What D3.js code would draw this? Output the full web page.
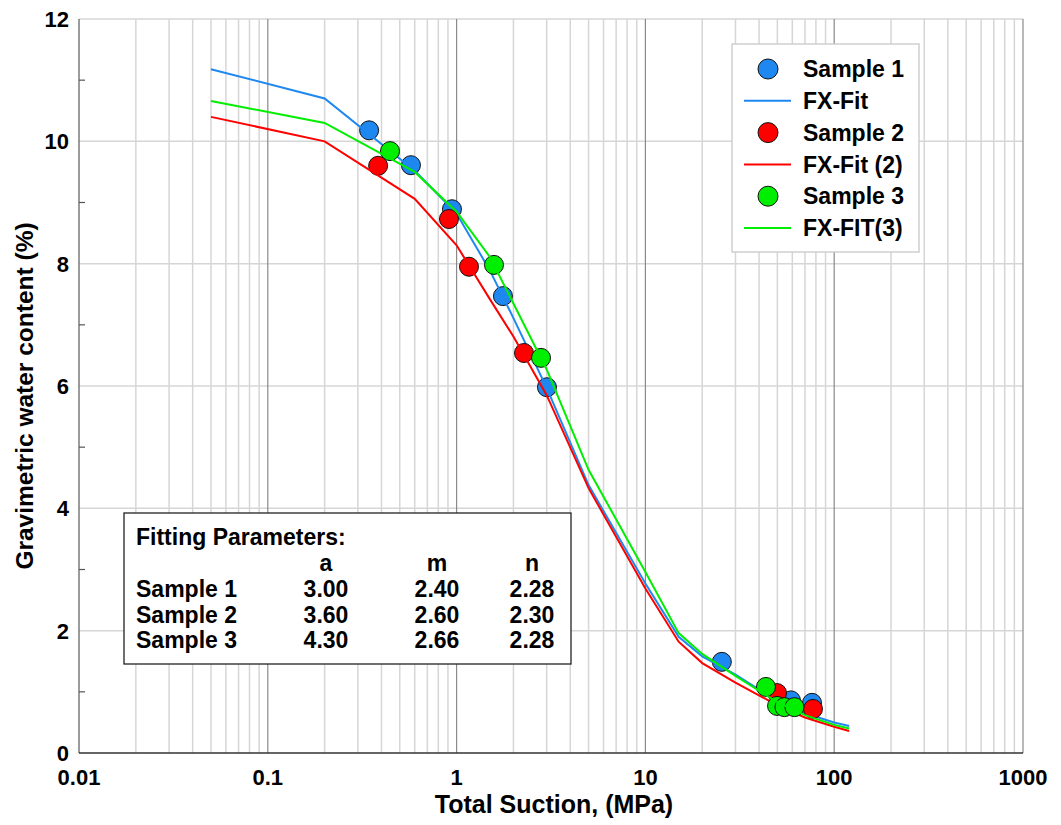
<!DOCTYPE html>
<html>
<head>
<meta charset="utf-8">
<script src="https://cdn.jsdelivr.net/npm/d3@7"></script>
<style>
  html, body { margin: 0; padding: 0; background: #fff; }
  svg { display: block; }
  text { font-family: "Liberation Sans", Arial, sans-serif; font-weight: bold; fill: #000; }
</style>
</head>
<body>
<svg id="chart" width="1061" height="825"></svg>
<script>
// ---------- data ----------
const xTickValues = [0.01, 0.1, 1, 10, 100, 1000];
const xTickLabels = ["0.01", "0.1", "1", "10", "100", "1000"];
const yTickValues = [0, 2, 4, 6, 8, 10, 12];
const yTickLabels = ["0", "2", "4", "6", "8", "10", "12"];
const yMinorTicks = [1, 3, 5, 7, 9, 11];

// measured points (suction MPa, water content %)
const sample1Suction = [0.344, 0.573, 0.945, 1.76, 3.01, 25.4, 59.0, 76.3];
const sample1Water   = [10.18, 9.61, 8.89, 7.47, 5.98, 1.49, 0.86, 0.82];
const sample2Suction = [0.384, 0.911, 1.163, 2.275, 49.8, 77.2];
const sample2Water   = [9.60, 8.73, 7.95, 6.54, 0.98, 0.72];
const sample3Suction = [0.444, 1.578, 2.80, 43.5, 49.8, 54.5, 61.6];
const sample3Water   = [9.84, 7.98, 6.46, 1.08, 0.77, 0.75, 0.75];

// fitted curves
const fitSuction = [0.05, 0.2, 0.6, 1, 1.5, 2, 3, 5, 10, 15, 20, 30, 50, 70, 100, 120];
const fit1Water  = [11.18, 10.70, 9.52, 8.82, 7.89, 7.11, 5.97, 4.38, 2.77, 1.90, 1.58, 1.28, 0.85, 0.65, 0.50, 0.44];
const fit2Water  = [10.40, 10.00, 9.06, 8.30, 7.42, 6.81, 5.85, 4.33, 2.69, 1.82, 1.47, 1.15, 0.78, 0.58, 0.43, 0.36];
const fit3Water  = [10.66, 10.30, 9.50, 8.85, 8.11, 7.35, 6.27, 4.63, 2.96, 1.96, 1.62, 1.26, 0.83, 0.62, 0.46, 0.40];

const legendLabels = ["Sample 1", "FX-Fit", "Sample 2", "FX-Fit (2)", "Sample 3", "FX-FIT(3)"];
const paramTitle = "Fitting Parameters:";
const paramHeaders = ["a", "m", "n"];
const paramRows = ["Sample 1", "Sample 2", "Sample 3"];
const paramA = ["3.00", "3.60", "4.30"];
const paramM = ["2.40", "2.60", "2.66"];
const paramN = ["2.28", "2.30", "2.28"];

const xTitle = "Total Suction, (MPa)";
const yTitle = "Gravimetric water content (%)";

// ---------- styles ----------
const BLUE = "#1e88f0", RED = "#ff0000", GREEN = "#00ee00";

const svg = d3.select("#chart");
const pLeft = 79, pRight = 1023, pTop = 19, pBottom = 753;

const x = d3.scaleLog().domain([0.01, 1000]).range([pLeft, pRight]);
const y = d3.scaleLinear().domain([0, 12]).range([pBottom, pTop]);

// grid: minor vertical
const minorX = [];
for (let e = -2; e < 3; e++) for (let k = 2; k <= 9; k++) minorX.push(k * Math.pow(10, e));
svg.append("g").selectAll("line").data(minorX).join("line")
  .attr("x1", d => x(d)).attr("x2", d => x(d))
  .attr("y1", pTop).attr("y2", pBottom)
  .attr("stroke", "#d6d6d6").attr("stroke-width", 1.5);

// horizontal grid
svg.append("g").selectAll("line").data(yTickValues.filter(v => v > 0)).join("line")
  .attr("x1", pLeft).attr("x2", pRight)
  .attr("y1", d => y(d)).attr("y2", d => y(d))
  .attr("stroke", "#d6d6d6").attr("stroke-width", 1.5);

// decade lines
svg.append("g").selectAll("line").data(xTickValues.slice(1)).join("line")
  .attr("x1", d => x(d)).attr("x2", d => x(d))
  .attr("y1", pTop).attr("y2", pBottom)
  .attr("stroke", "#8a8a8a").attr("stroke-width", 1.2);

// axes lines
svg.append("line").attr("x1", pLeft).attr("x2", pLeft).attr("y1", pTop).attr("y2", pBottom)
  .attr("stroke", "#666").attr("stroke-width", 1.3);
svg.append("line").attr("x1", pLeft).attr("x2", pRight).attr("y1", pBottom).attr("y2", pBottom)
  .attr("stroke", "#333").attr("stroke-width", 1.5);

// y minor ticks (inward)
svg.append("g").selectAll("line").data(yMinorTicks).join("line")
  .attr("x1", pLeft).attr("x2", pLeft + 6)
  .attr("y1", d => y(d)).attr("y2", d => y(d))
  .attr("stroke", "#555").attr("stroke-width", 1.2);

// y tick labels
svg.append("g").selectAll("text").data(yTickValues).join("text")
  .attr("x", pLeft - 10).attr("y", d => y(d)).attr("dy", "0.36em")
  .attr("text-anchor", "end").style("font-size", "22px")
  .text((d, i) => yTickLabels[i]);

// x tick labels
svg.append("g").selectAll("text").data(xTickValues).join("text")
  .attr("x", d => x(d)).attr("y", 785)
  .attr("text-anchor", "middle").style("font-size", "22px")
  .text((d, i) => xTickLabels[i]);

// axis titles
svg.append("text").attr("x", (pLeft + pRight) / 2 + 3).attr("y", 813)
  .attr("text-anchor", "middle").style("font-size", "25px").text(xTitle);
svg.append("text").attr("transform", "translate(33,396) rotate(-90)")
  .attr("text-anchor", "middle").style("font-size", "24.5px").text(yTitle);

// ---------- series ----------
const line = d3.line().x(d => x(d[0])).y(d => y(d[1])).curve(d3.curveLinear);
const zip = (a, b) => a.map((v, i) => [v, b[i]]);

const series = [
  { pts: zip(sample1Suction, sample1Water), fit: zip(fitSuction, fit1Water), color: BLUE },
  { pts: zip(sample2Suction, sample2Water), fit: zip(fitSuction, fit2Water), color: RED },
  { pts: zip(sample3Suction, sample3Water), fit: zip(fitSuction, fit3Water), color: GREEN }
];

series.forEach(s => {
  svg.append("g").selectAll("circle").data(s.pts).join("circle")
    .attr("cx", d => x(d[0])).attr("cy", d => y(d[1])).attr("r", 9.5)
    .attr("fill", s.color).attr("stroke", "#111").attr("stroke-width", 1);
  svg.append("path").datum(s.fit).attr("d", line)
    .attr("fill", "none").attr("stroke", s.color).attr("stroke-width", 2);
});

// ---------- legend ----------
const lg = svg.append("g");
lg.append("rect").attr("x", 732).attr("y", 44).attr("width", 187).attr("height", 208)
  .attr("fill", "#fff").attr("stroke", "#c8c8c8").attr("stroke-width", 1.3);
const legendColors = [BLUE, BLUE, RED, RED, GREEN, GREEN];
legendLabels.forEach((lab, i) => {
  const cy = 69 + i * 31.8;
  if (i % 2 === 0) {
    lg.append("circle").attr("cx", 768).attr("cy", cy).attr("r", 10)
      .attr("fill", legendColors[i]).attr("stroke", "#111").attr("stroke-width", 1);
  } else {
    lg.append("line").attr("x1", 744).attr("x2", 791).attr("y1", cy).attr("y2", cy)
      .attr("stroke", legendColors[i]).attr("stroke-width", 2);
  }
  lg.append("text").attr("x", 803).attr("y", cy).attr("dy", "0.36em")
    .style("font-size", "23px").text(lab);
});

// ---------- parameter box ----------
const pb = svg.append("g");
pb.append("rect").attr("x", 124).attr("y", 513).attr("width", 447).attr("height", 151)
  .attr("fill", "#fff").attr("stroke", "#222").attr("stroke-width", 1.3);
pb.append("text").attr("x", 136).attr("y", 545).style("font-size", "23px").text(paramTitle);
const colX = [326, 437, 532];
paramHeaders.forEach((h, i) => {
  pb.append("text").attr("x", colX[i]).attr("y", 571).attr("text-anchor", "middle")
    .style("font-size", "23px").text(h);
});
paramRows.forEach((r, j) => {
  const by = 597 + j * 25.5;
  pb.append("text").attr("x", 136).attr("y", by).style("font-size", "23px").text(r);
  [paramA[j], paramM[j], paramN[j]].forEach((v, i) => {
    pb.append("text").attr("x", colX[i]).attr("y", by).attr("text-anchor", "middle")
      .style("font-size", "23px").text(v);
  });
});
</script>
</body>
</html>
